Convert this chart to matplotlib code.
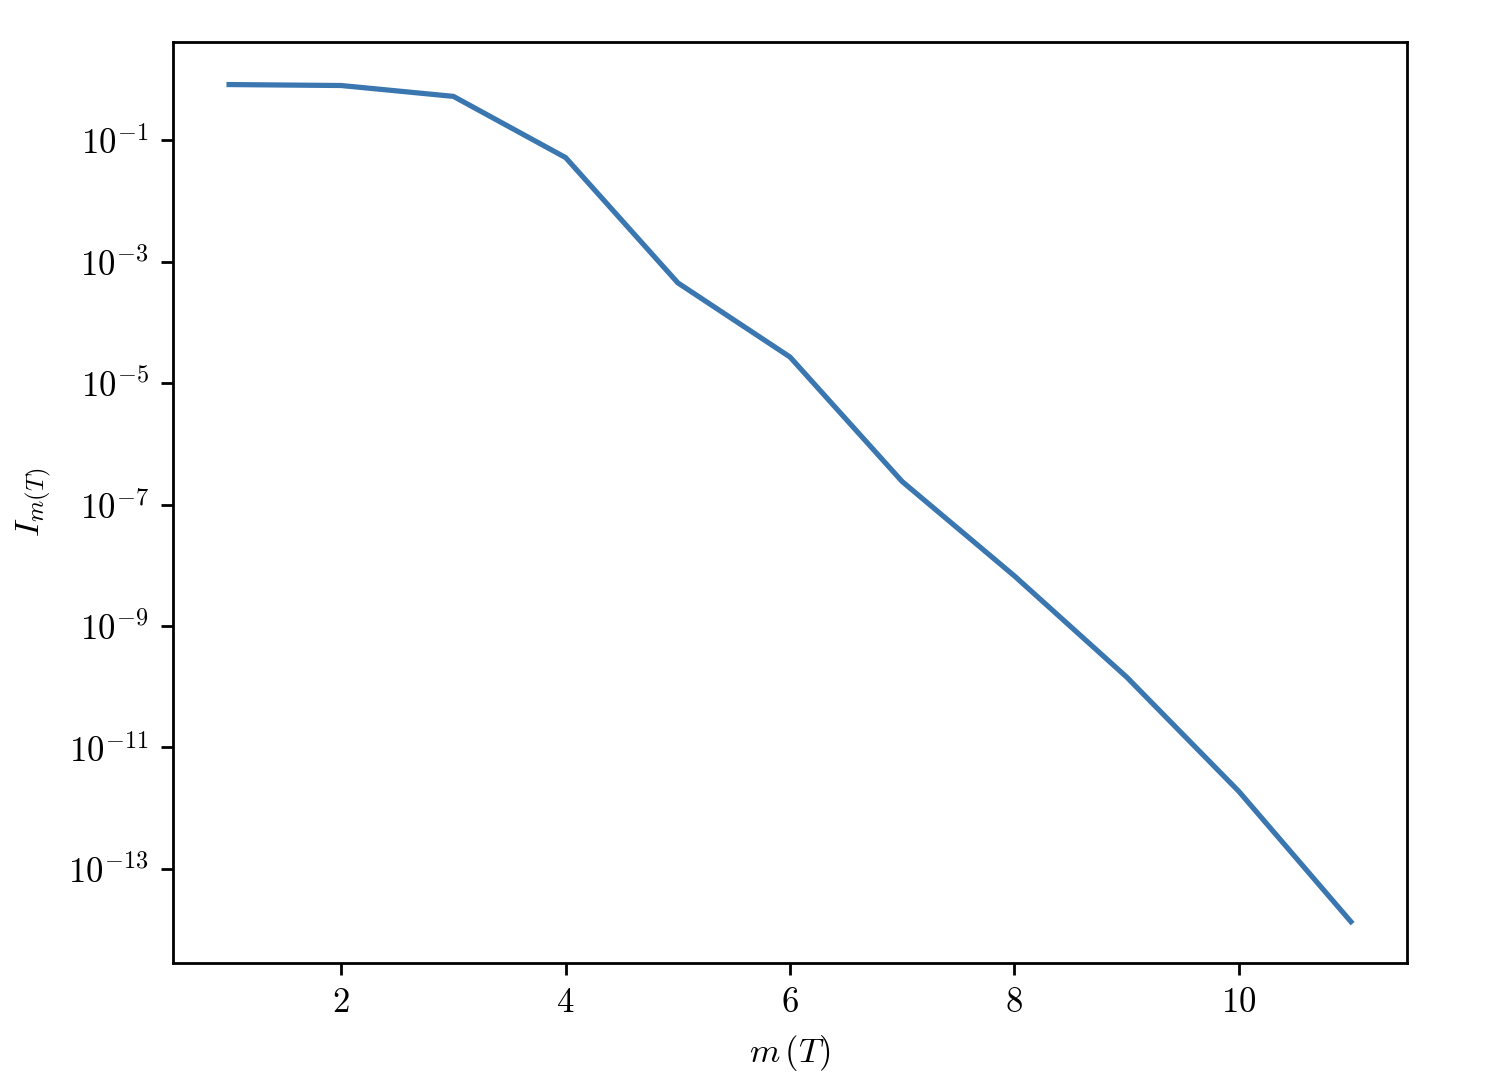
import matplotlib
matplotlib.use("Agg")
import matplotlib.pyplot as plt
from matplotlib.ticker import NullLocator

plt.rcParams['font.family'] = 'serif'
plt.rcParams['font.serif'] = ['cmr10']
plt.rcParams['mathtext.fontset'] = 'cm'
plt.rcParams['axes.formatter.use_mathtext'] = True

m_vals = [1, 2, 3, 4, 5, 6, 7, 8, 9, 10, 11]
I_vals = [0.83, 0.80, 0.53, 0.052, 4.5e-4, 2.7e-5, 2.4e-7,
          6.7e-9, 1.45e-10, 1.9e-12, 1.35e-14]

fig = plt.figure(figsize=(1494 / 250, 1090 / 250), dpi=250)
ax = fig.add_axes([173 / 1494, 1 - 963 / 1090, 1234 / 1494, 921 / 1090])

ax.plot(m_vals, I_vals, color='#3a76b0', linewidth=1.5)
ax.set_yscale('log')
ax.yaxis.set_minor_locator(NullLocator())
ax.set_xlim(0.5, 11.5)
ax.set_ylim(10 ** -14.55, 10 ** 0.62)
ax.set_xticks([2, 4, 6, 8, 10])
ax.set_yticks([1e-13, 1e-11, 1e-9, 1e-7, 1e-5, 1e-3, 1e-1])
ax.set_xlabel(r'$m\,(T)$')
ax.set_ylabel(r'$I_{m(T)}$')

fig.savefig('out.png', dpi=250)
